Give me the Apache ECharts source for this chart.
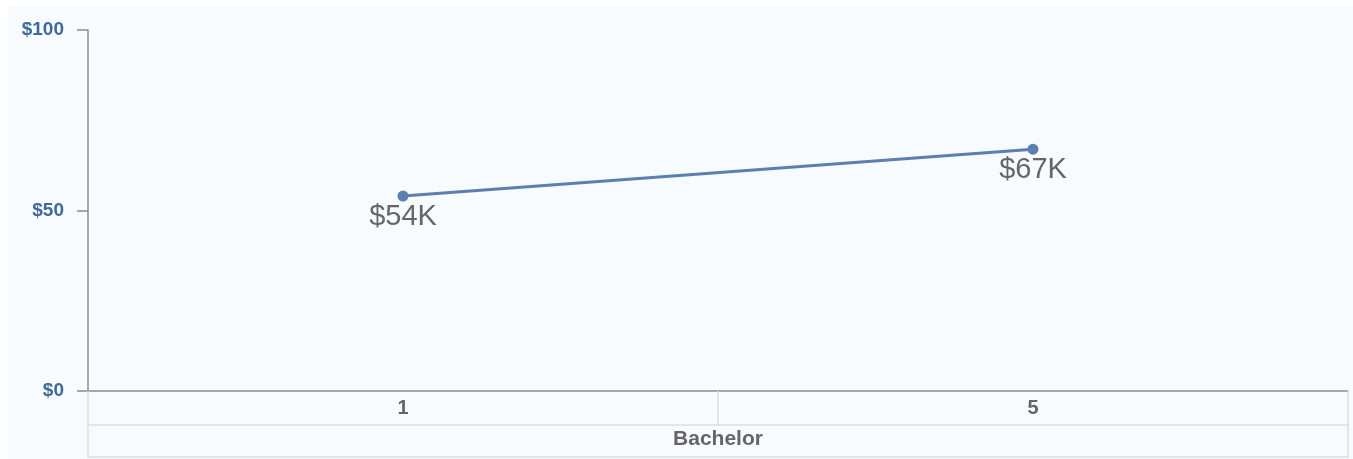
<!DOCTYPE html>
<html>
<head>
<meta charset="utf-8">
<script src="https://cdn.jsdelivr.net/npm/echarts@6/dist/echarts.min.js"></script>
<style>
html,body{margin:0;padding:0;background:#ffffff;}
#chart{width:1353px;height:459px;}
</style>
</head>
<body>
<div id="chart"></div>
<script>
const categories = ['1', '5'];
const groupLabels = ['Bachelor'];
const salaryK = [54, 67];
const yTicks = { min: 0, max: 100, interval: 50 };

const chart = echarts.init(document.getElementById('chart'), null, { renderer: 'canvas' });
const lightLine = '#dcdfe3';
const font = 'Liberation Sans, Arial, sans-serif';
const option = {
  animation: false,
  backgroundColor: 'transparent',
  graphic: [{
    type: 'rect', z: -10, silent: true,
    shape: { x: 8, y: 6, width: 1345, height: 453 },
    style: { fill: '#f7fbfe' }
  }],
  grid: { left: 88, right: 5, top: 30, bottom: 68, containLabel: false },
  xAxis: [{
    type: 'category',
    data: categories,
    position: 'bottom',
    axisLine: { show: true, lineStyle: { color: '#8c8c8c', width: 1.5 } },
    axisTick: { show: true, length: 34, interval: 0, lineStyle: { color: lightLine, width: 1.5 } },
    axisLabel: { color: '#666666', fontWeight: 'bold', fontSize: 20, fontFamily: font, margin: 7 },
    splitLine: { show: false }
  }, {
    type: 'category',
    data: groupLabels,
    position: 'bottom',
    offset: 34,
    axisLine: { show: true, lineStyle: { color: lightLine, width: 1.5 } },
    axisTick: { show: true, length: 32, interval: 0, lineStyle: { color: lightLine, width: 1.5 } },
    axisLabel: { color: '#666666', fontWeight: 'bold', fontSize: 21, fontFamily: font, margin: 4 }
  }, {
    type: 'category',
    data: groupLabels,
    position: 'bottom',
    offset: 66,
    axisLine: { show: true, lineStyle: { color: lightLine, width: 1.5 } },
    axisTick: { show: false },
    axisLabel: { show: false }
  }],
  yAxis: {
    type: 'value',
    min: yTicks.min, max: yTicks.max, interval: yTicks.interval,
    axisLine: { show: true, lineStyle: { color: '#8c8c8c', width: 1.5 } },
    axisTick: { show: true, length: 11, lineStyle: { color: '#8c8c8c', width: 1.5 } },
    axisLabel: {
      color: '#41689a', fontWeight: 'bold', fontSize: 19,
      fontFamily: font, margin: 24,
      formatter: v => '$' + v
    },
    splitLine: { show: false }
  },
  series: [{
    type: 'line',
    data: salaryK,
    xAxisIndex: 0,
    symbol: 'circle',
    symbolSize: 11,
    itemStyle: { color: '#5a7fb0' },
    lineStyle: { color: '#5a7fb0', width: 3 },
    label: {
      show: true, position: 'bottom', distance: 1,
      color: '#666666', fontSize: 29,
      fontFamily: font,
      formatter: p => '$' + p.value + 'K'
    }
  }]
};
chart.setOption(option);
</script>
</body>
</html>
